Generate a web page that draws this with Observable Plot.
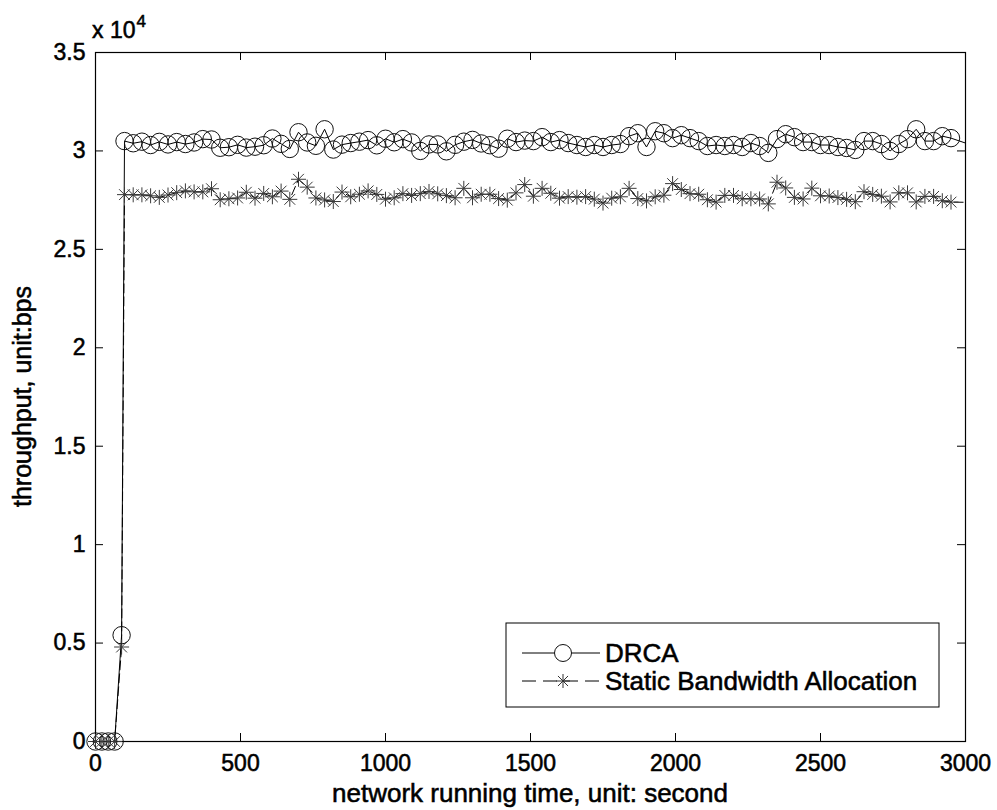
<!DOCTYPE html>
<html>
<head>
<meta charset="utf-8">
<script src="https://cdn.jsdelivr.net/npm/d3@7"></script>
<script src="https://cdn.jsdelivr.net/npm/@observablehq/plot@0.6"></script>
<style>
  html, body { margin: 0; padding: 0; background: #fff; }
  #chart { width: 997px; height: 810px; }
  #chart svg text { stroke: #000; stroke-width: 0.55px; paint-order: stroke; }
</style>
</head>
<body>
<div id="chart"></div>
<script>
// ---- data ----
const times = [0, 22, 44, 66, 90,
  100,130,160,190,220,250,280,310,340,370,
  400,430,460,490,520,550,580,610,640,670,
  700,730,760,790,820,850,880,910,940,970,
  1000,1030,1060,1090,1120,1150,1180,1210,1240,1270,
  1300,1330,1360,1390,1420,1450,1480,
  1510,1540,1570,1600,1630,1660,1690,1720,1750,1780,
  1810,1840,1870,1900,1930,1960,1990,2020,2050,2080,
  2110,2140,2170,2200,2230,2260,2290,2320,2350,2380,
  2410,2440,2470,2500,2530,2560,2590,2620,2650,2680,
  2710,2740,2770,2800,2830,2860,2890,2920,2950,
  3010];

const drca = [0, 0, 0, 0, 5400,
  30500,30390,30470,30300,30460,30330,30450,30350,30430,30600,
  30580,30160,30190,30310,30170,30215,30290,30630,30360,30100,
  30950,30430,30260,31100,30070,30320,30400,30470,30550,30285,
  30620,30440,30600,30430,30000,30330,30330,29980,30310,30470,
  30560,30380,30290,30115,30620,30450,30525,
  30500,30700,30450,30550,30400,30300,30200,30300,30200,30300,
  30350,30750,30900,30200,31000,30900,30650,30800,30650,30500,
  30250,30300,30250,30300,30200,30400,30250,29900,30600,30850,
  30700,30450,30450,30300,30300,30200,30150,30050,30500,30500,
  30350,30000,30350,30600,31100,30500,30500,30750,30650,
  30350];

const staticAlloc = [0, 0, 0, 0, 4800,
  27780,27770,27770,27720,27640,27760,27880,27970,27920,27920,
  28080,27520,27570,27610,27900,27600,27840,27670,27960,27540,
  28560,28160,27610,27510,27430,27910,27670,27800,27970,27790,
  27550,27620,27830,27740,27830,27940,27820,27730,27620,28100,
  27620,27800,27800,27580,27500,27870,28290,
  27700,28100,27850,27600,27680,27650,27680,27550,27350,27600,
  27670,28100,27580,27460,27670,27750,28340,28040,27830,27800,
  27520,27400,27740,27740,27570,27570,27560,27310,28410,28120,
  27640,27560,28110,27720,27710,27630,27540,27420,27930,27790,
  27700,27410,27870,27870,27410,27690,27690,27470,27400,
  27390];

const seriesNames = ["DRCA", "Static Bandwidth Allocation"];
const xTicks = [0, 500, 1000, 1500, 2000, 2500, 3000];
const yTicks = [0, 5000, 10000, 15000, 20000, 25000, 30000, 35000];
const yTickLabels = ["0", "0.5", "1", "1.5", "2", "2.5", "3", "3.5"];
const xTitle = "network running time, unit: second";
const yTitle = "throughput, unit:bps";
const exponentBase = "x 10";
const exponent = "4";

// ---- layout ----
const W = 997, H = 810;
const mL = 95, mR = 32, mT = 52, mB = 69;
const plotW = W - mL - mR, plotH = H - mT - mB;
const FONT = "'Liberation Sans', Arial, Helvetica, sans-serif";
const tickLen = 8;

const rows = times.map((t, i) => ({t, drca: drca[i], sba: staticAlloc[i]}));
const visible = rows.filter(d => d.t <= 3000);

const star = {
  draw(ctx, size) {
    const r = Math.sqrt(size / Math.PI);
    const d = r * 0.72;
    ctx.moveTo(-r, 0); ctx.lineTo(r, 0);
    ctx.moveTo(0, -r); ctx.lineTo(0, r);
    ctx.moveTo(-d, -d); ctx.lineTo(d, d);
    ctx.moveTo(-d, d); ctx.lineTo(d, -d);
  }
};

const chart = Plot.plot({
  width: W, height: H,
  marginLeft: mL, marginRight: mR, marginTop: mT, marginBottom: mB,
  style: {fontFamily: FONT, fontSize: "23px", color: "#000", background: "#fff", overflow: "visible"},
  x: {domain: [0, 3000], ticks: xTicks, tickSize: 0, tickPadding: 13, tickFormat: d => String(d), label: null},
  y: {domain: [0, 35000], ticks: yTicks, tickSize: 0, tickPadding: 10,
      tickFormat: d => yTickLabels[yTicks.indexOf(d)], label: null},
  marks: [
    Plot.frame({stroke: "#000", strokeWidth: 1.2}),
    Plot.tickX(xTicks, {x: d => d, insetTop: plotH - tickLen, stroke: "#000"}),
    Plot.tickX(xTicks, {x: d => d, insetBottom: plotH - tickLen, stroke: "#000"}),
    Plot.tickY(yTicks, {y: d => d, insetRight: plotW - tickLen, stroke: "#000"}),
    Plot.tickY(yTicks, {y: d => d, insetLeft: plotW - tickLen, stroke: "#000"}),
    Plot.line(rows, {x: "t", y: "sba", stroke: "#000", strokeWidth: 1, strokeDasharray: "9,4", clip: true}),
    Plot.line(rows, {x: "t", y: "drca", stroke: "#000", strokeWidth: 1, clip: true}),
    Plot.dot(visible, {x: "t", y: "sba", symbol: star, r: 7.5, stroke: "#3a3a3a", strokeWidth: 1, fill: "none"}),
    Plot.dot(visible, {x: "t", y: "drca", r: 8.7, stroke: "#111", strokeWidth: 1, fill: "none"})
  ]
});

document.getElementById("chart").appendChild(chart);

// ---- annotations: exponent, axis titles, legend ----
const svg = d3.select(chart);
const ann = svg.append("g").attr("font-family", FONT).attr("fill", "#000");

const expText = ann.append("text").attr("x", mL - 3).attr("y", 38)
  .attr("text-anchor", "start").attr("font-size", 23);
expText.append("tspan").text(exponentBase);
expText.append("tspan").attr("dy", -11).attr("dx", 1).attr("font-size", 17).text(exponent);

ann.append("text")
  .attr("x", mL + plotW / 2).attr("y", 802)
  .attr("text-anchor", "middle").attr("font-size", 26)
  .text(xTitle);

ann.append("text")
  .attr("transform", `translate(31,${mT + plotH / 2}) rotate(-90)`)
  .attr("text-anchor", "middle").attr("font-size", 25)
  .text(yTitle);

// legend box
const lg = svg.append("g").attr("font-family", FONT);
const lx = 506, ly = 623, lw = 433, lh = 84;
lg.append("rect").attr("x", lx).attr("y", ly).attr("width", lw).attr("height", lh)
  .attr("fill", "#fff").attr("stroke", "#000").attr("stroke-width", 1);
const entries = [
  {name: seriesNames[0], y: ly + 30, dash: null, sym: "circle"},
  {name: seriesNames[1], y: ly + 58, dash: "14,7", sym: "star"}
];
entries.forEach(e => {
  lg.append("line").attr("x1", lx + 16).attr("x2", lx + 94).attr("y1", e.y).attr("y2", e.y)
    .attr("stroke", "#000").attr("stroke-width", 1).attr("stroke-dasharray", e.dash);
  if (e.sym === "circle") {
    lg.append("circle").attr("cx", lx + 57).attr("cy", e.y).attr("r", 8.5)
      .attr("fill", "#fff").attr("stroke", "#111");
  } else {
    const p = d3.path(); star.draw(p, 49 * Math.PI);
    lg.append("path").attr("d", p.toString()).attr("transform", `translate(${lx + 57},${e.y})`)
      .attr("stroke", "#333").attr("fill", "none");
  }
  lg.append("text").attr("x", lx + 99).attr("y", e.y).attr("dy", "0.36em")
    .attr("text-anchor", "start").attr("font-size", 26).attr("fill", "#000").text(e.name);
});
</script>
</body>
</html>
